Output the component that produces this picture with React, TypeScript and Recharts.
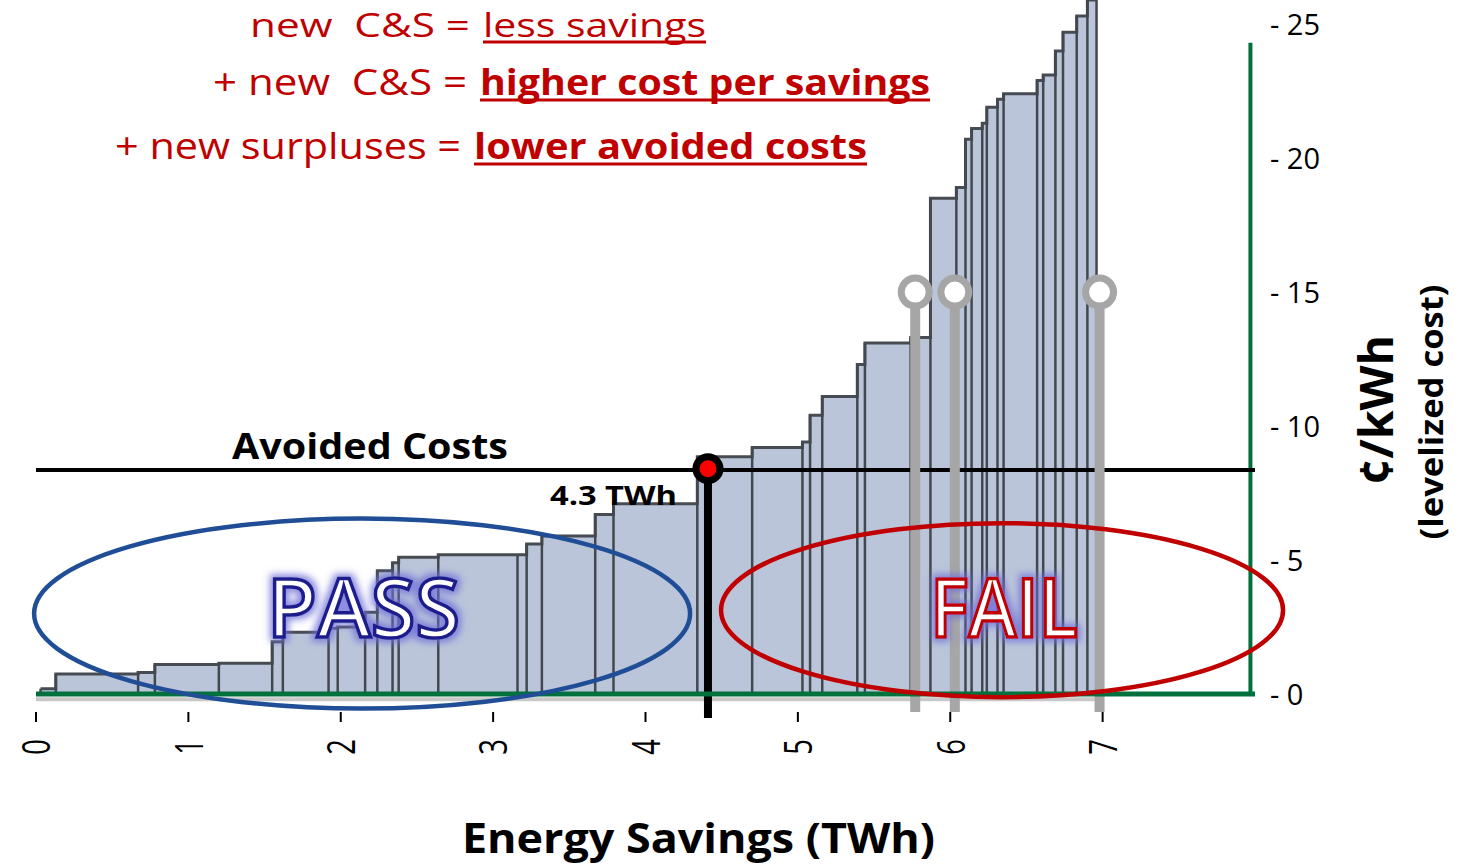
import {
  Area,
  ComposedChart,
  ReferenceDot,
  ReferenceLine,
  XAxis,
  YAxis,
} from "recharts"

// measure boundaries along the supply curve (TWh) and their levelized cost (¢/kWh)
const savingsEdges = [
  0.03, 0.13, 0.67, 0.78, 1.2, 1.55, 1.62, 1.92, 1.98, 2.16, 2.24, 2.34, 2.38,
  2.64, 3.16, 3.22, 3.32, 3.67, 3.79, 4.34, 4.7, 5.03, 5.08, 5.16, 5.39, 5.44,
  5.74, 5.87, 6.04, 6.1, 6.14, 6.21, 6.24, 6.31, 6.35, 6.57, 6.61, 6.69, 6.74,
  6.83, 6.9, 6.96,
]
const levelizedCost = [
  0.2, 0.75, 0.8, 1.1, 1.15, 1.95, 2.3, 2.45, 2.5, 3.05, 4.6, 4.9, 5.1, 5.2,
  5.2, 5.6, 5.9, 6.7, 7.1, 8.85, 9.2, 9.4, 10.4, 11.1, 12.3, 13.1, 13.3, 18.5,
  18.9, 20.7, 21.1, 21.3, 21.9, 22.2, 22.4, 22.9, 23.1, 24.0, 24.7, 25.3, 25.9,
]

const xTicks = [0, 1, 2, 3, 4, 5, 6, 7]
const yTicks = [0, 5, 10, 15, 20, 25]

const avoidedCost = 8.36
const cutoffSavings = 4.41
const failMarkers = [5.77, 6.03, 6.98]
const failMarkerCost = 15

const passCenter = { x: 2.14, y: 3.0 }
const failCenter = { x: 6.34, y: 3.13 }

const curve = savingsEdges.map((x, i) => ({
  x,
  cost: levelizedCost[Math.min(i, levelizedCost.length - 1)],
}))

const edgeHeights = savingsEdges.map((_, i) =>
  Math.max(levelizedCost[i - 1] ?? 0, levelizedCost[i] ?? 0)
)

const FONT = "'Open Sans', sans-serif"
const RED = "#C00000"
const GREEN = "#00703C"
const GRAY = "#A6A6A6"

function XTick(props: any) {
  const { x, y, payload } = props
  return (
    <g>
      <line x1={x} x2={x} y1={y + 10} y2={y + 20} stroke="#000" strokeWidth={2} />
      <text
        transform={`translate(${x},${y + 45}) rotate(-90) scale(0.72,1)`}
        textAnchor="middle"
        dominantBaseline="central"
        fontFamily={FONT}
        fontSize={38}
        fill="#000"
      >
        {payload.value}
      </text>
    </g>
  )
}

function YTick(props: any) {
  const { x, y, payload } = props
  return (
    <text
      x={x + 7}
      y={y - 1}
      dominantBaseline="central"
      fontFamily={FONT}
      fontSize={29}
      fill="#000"
      style={{ whiteSpace: "pre" }}
    >
      {`- ${payload.value}`}
    </text>
  )
}

function Ellipse(rx: number, ry: number, color: string) {
  return (props: any) => (
    <ellipse
      cx={props.cx}
      cy={props.cy}
      rx={rx}
      ry={ry}
      fill="none"
      stroke={color}
      strokeWidth={4.5}
    />
  )
}

function Ring(props: any) {
  return (
    <circle cx={props.cx} cy={props.cy} r={14} fill="#fff" stroke={GRAY} strokeWidth={7} />
  )
}

function CutoffDot(props: any) {
  return (
    <circle cx={props.cx} cy={props.cy} r={12} fill="#FF0000" stroke="#000" strokeWidth={7} />
  )
}

function Underlined(props: {
  x: number
  y: number
  len: number
  text: string
  bold?: boolean
  size?: number
}) {
  return (
    <g>
      <text
        x={props.x}
        y={props.y}
        textLength={props.len}
        lengthAdjust="spacingAndGlyphs"
        fontFamily={FONT}
        fontSize={props.size ?? 36}
        fontWeight={props.bold ? 700 : 400}
        fill={RED}
      >
        {props.text}
      </text>
      <line
        x1={props.x}
        x2={props.x + props.len}
        y1={props.y + 5}
        y2={props.y + 5}
        stroke={RED}
        strokeWidth={3}
      />
    </g>
  )
}

function Plain(props: { x: number; y: number; len: number; text: string; size?: number }) {
  return (
    <text
      x={props.x}
      y={props.y}
      textLength={props.len}
      lengthAdjust="spacingAndGlyphs"
      fontFamily={FONT}
      fontSize={props.size ?? 36}
      fill={RED}
      style={{ whiteSpace: "pre" }}
    >
      {props.text}
    </text>
  )
}

export default function App() {
  return (
    <div style={{ position: "absolute", left: 0, top: 0, width: 1463, height: 866, background: "#fff" }}>
      <ComposedChart
        width={1463}
        height={866}
        data={curve}
        margin={{ top: 0, right: 128, bottom: 112, left: 36 }}
      >
        <XAxis
          dataKey="x"
          type="number"
          domain={[0, 8]}
          ticks={xTicks}
          allowDataOverflow
          height={60}
          tickLine={false}
          axisLine={{ stroke: GREEN, strokeWidth: 5 }}
          tick={XTick}
        />
        <YAxis
          orientation="right"
          type="number"
          domain={[0, 25.9]}
          ticks={yTicks}
          allowDataOverflow
          width={80}
          axisLine={false}
          tickLine={false}
          tick={YTick}
        />
        <ReferenceLine
          segment={[{ x: 0, y: -0.2 }, { x: 6.96, y: -0.2 }]}
          stroke="#C8C8C8"
          strokeWidth={4}
          ifOverflow="visible"
        />
        <Area
          type="stepAfter"
          dataKey="cost"
          fill="#BAC5DA"
          fillOpacity={1}
          stroke="#474C52"
          strokeWidth={3}
          isAnimationActive={false}
          dot={false}
          activeDot={false}
        />
        {savingsEdges.map((x, i) => (
          <ReferenceLine
            key={`edge-${i}`}
            segment={[{ x, y: 0 }, { x, y: edgeHeights[i] }]}
            stroke="#43484E"
            strokeWidth={2.5}
            ifOverflow="hidden"
          />
        ))}
        <ReferenceLine
          segment={[{ x: 7.97, y: 0 }, { x: 7.97, y: 24.3 }]}
          stroke={GREEN}
          strokeWidth={4}
          ifOverflow="visible"
        />
        <ReferenceLine y={avoidedCost} stroke="#000" strokeWidth={4} />
        <ReferenceDot
          x={passCenter.x}
          y={passCenter.y}
          r={1}
          ifOverflow="visible"
          shape={Ellipse(328, 95, "#1F4E96")}
        />
        <ReferenceDot
          x={failCenter.x}
          y={failCenter.y}
          r={1}
          ifOverflow="visible"
          shape={Ellipse(281, 87, RED)}
        />
        {failMarkers.map((x) => (
          <ReferenceLine
            key={`fail-${x}`}
            segment={[{ x, y: -0.67 }, { x, y: failMarkerCost }]}
            stroke={GRAY}
            strokeWidth={10}
            ifOverflow="visible"
          />
        ))}
        {failMarkers.map((x) => (
          <ReferenceDot
            key={`ring-${x}`}
            x={x}
            y={failMarkerCost}
            r={14}
            ifOverflow="visible"
            shape={Ring}
          />
        ))}
        <ReferenceLine
          segment={[{ x: cutoffSavings, y: -0.9 }, { x: cutoffSavings, y: avoidedCost }]}
          stroke="#000"
          strokeWidth={8}
          ifOverflow="visible"
        />
        <ReferenceDot
          x={cutoffSavings}
          y={avoidedCost + 0.05}
          r={12}
          ifOverflow="visible"
          shape={CutoffDot}
        />
      </ComposedChart>

      <svg
        width={1463}
        height={866}
        style={{ position: "absolute", left: 0, top: 0, pointerEvents: "none" }}
      >
        <defs>
          <filter id="glow" x="-20%" y="-30%" width="140%" height="160%">
            <feMorphology in="SourceAlpha" operator="dilate" radius="3" result="fat" />
            <feGaussianBlur in="fat" stdDeviation="3.5" result="blur" />
            <feFlood floodColor="#6E6ED8" floodOpacity="0.8" />
            <feComposite in2="blur" operator="in" result="glow" />
            <feMerge>
              <feMergeNode in="glow" />
              <feMergeNode in="SourceGraphic" />
            </feMerge>
          </filter>
        </defs>

        <Plain x={250} y={37} len={220} text="new  C&S =" size={33} />
        <Underlined x={483} y={37} len={223} text="less savings" size={33} />
        <Plain x={213} y={95} len={254} text="+ new  C&S =" />
        <Underlined x={480} y={95} len={450} text="higher cost per savings" bold />
        <Plain x={115} y={159} len={346} text="+ new surpluses =" />
        <Underlined x={474} y={159} len={393} text="lower avoided costs" bold />

        <text x={232} y={459} textLength={276} lengthAdjust="spacingAndGlyphs" fontFamily={FONT} fontSize={36} fontWeight={700} fill="#000">
          Avoided Costs
        </text>
        <text x={550} y={505} textLength={127} lengthAdjust="spacingAndGlyphs" fontFamily={FONT} fontSize={27} fontWeight={700} fill="#000">
          4.3 TWh
        </text>

        <text
          x={267}
          y={637}
          textLength={193}
          lengthAdjust="spacingAndGlyphs"
          fontFamily={FONT}
          fontSize={82}
          fontWeight={600}
          fill="#fff"
          stroke="#1A1A8C"
          strokeWidth={3.5}
          filter="url(#glow)"
        >
          PASS
        </text>
        <text
          x={930}
          y={637}
          textLength={148}
          lengthAdjust="spacingAndGlyphs"
          fontFamily={FONT}
          fontSize={82}
          fontWeight={600}
          fill="#fff"
          stroke={RED}
          strokeWidth={3.5}
          filter="url(#glow)"
        >
          FAIL
        </text>

        <text x={462} y={853} textLength={473} lengthAdjust="spacingAndGlyphs" fontFamily={FONT} fontSize={42} fontWeight={700} fill="#000">
          Energy Savings (TWh)
        </text>

        <text
          transform="translate(1393,410) rotate(-90)"
          textAnchor="middle"
          textLength={150}
          lengthAdjust="spacingAndGlyphs"
          fontFamily={FONT}
          fontSize={46}
          fontWeight={700}
          fill="#000"
        >
          ¢/kWh
        </text>
        <text
          transform="translate(1443,412) rotate(-90)"
          textAnchor="middle"
          textLength={255}
          lengthAdjust="spacingAndGlyphs"
          fontFamily={FONT}
          fontSize={33}
          fontWeight={700}
          fill="#000"
        >
          (levelized cost)
        </text>
      </svg>
    </div>
  )
}
